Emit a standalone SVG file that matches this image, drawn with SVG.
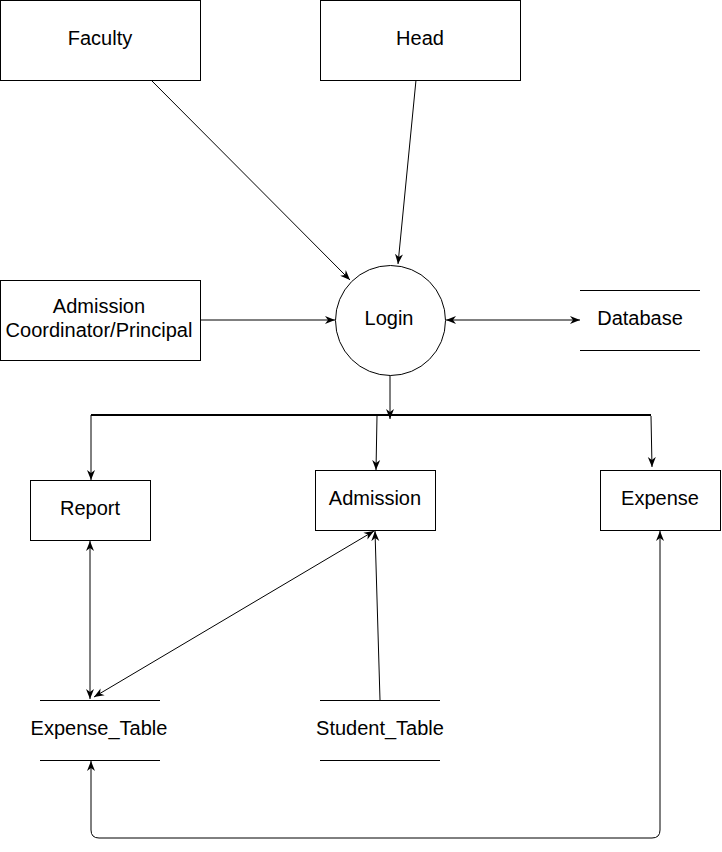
<svg xmlns="http://www.w3.org/2000/svg" width="722" height="852" viewBox="0 0 722 852">
<defs>
<marker id="ah" viewBox="0 0 10 10" refX="10" refY="5" markerWidth="10" markerHeight="10" markerUnits="userSpaceOnUse" orient="auto-start-reverse">
<path d="M0,1 L10,5 L0,9 L3,5 Z" fill="#000"/>
</marker>
</defs>
<style>
.box{fill:#fff;stroke:#000;stroke-width:1}
.ln{fill:none;stroke:#000;stroke-width:1}
.t{font-family:"Liberation Sans",Arial,sans-serif;font-size:20px;fill:#000;text-anchor:middle}
</style>
<rect width="722" height="852" fill="#fff"/>
<g id="connectors">
<line class="ln" x1="151" y1="80" x2="350" y2="280" marker-end="url(#ah)"/>
<line class="ln" x1="416" y1="80" x2="398" y2="264" marker-end="url(#ah)"/>
<line class="ln" x1="200" y1="320" x2="335" y2="320" marker-end="url(#ah)"/>
<line class="ln" x1="446" y1="320" x2="580" y2="320" marker-start="url(#ah)" marker-end="url(#ah)"/>
<line class="ln" x1="390" y1="375" x2="390" y2="419" marker-end="url(#ah)"/>
<line x1="91" y1="415" x2="651" y2="415" stroke="#000" stroke-width="2"/>
<line class="ln" x1="91" y1="415" x2="91" y2="480" marker-end="url(#ah)"/>
<line class="ln" x1="377" y1="416" x2="376" y2="470" marker-end="url(#ah)"/>
<line class="ln" x1="651" y1="416" x2="652" y2="467" marker-end="url(#ah)"/>
<line class="ln" x1="90" y1="541" x2="90" y2="699" marker-start="url(#ah)" marker-end="url(#ah)"/>
<line class="ln" x1="374" y1="531" x2="94" y2="697" marker-start="url(#ah)" marker-end="url(#ah)"/>
<line class="ln" x1="380" y1="700" x2="375" y2="531" marker-end="url(#ah)"/>
<path class="ln" d="M660,531 L660,830 Q660,838 652,838 L99,838 Q91,838 91,830 L91,761" marker-start="url(#ah)" marker-end="url(#ah)"/>
</g>
<g id="faculty"><rect class="box" x="0.5" y="0.5" width="200" height="80"/><text class="t" x="100" y="45">Faculty</text></g>
<g id="head"><rect class="box" x="320.5" y="0.5" width="200" height="80"/><text class="t" x="420" y="45">Head</text></g>
<g id="admission-coordinator"><rect class="box" x="0.5" y="280.5" width="200" height="80"/><text class="t" x="99" y="313">Admission</text><text class="t" x="99" y="337">Coordinator/Principal</text></g>
<g id="login"><circle class="box" cx="390.5" cy="320.5" r="55"/><text class="t" x="389" y="325">Login</text></g>
<g id="database"><line class="ln" x1="580" y1="290.5" x2="700" y2="290.5"/><line class="ln" x1="580" y1="350.5" x2="700" y2="350.5"/><text class="t" x="640" y="325">Database</text></g>
<g id="report"><rect class="box" x="30.5" y="480.5" width="120" height="60"/><text class="t" x="90" y="515">Report</text></g>
<g id="admission"><rect class="box" x="315.5" y="470.5" width="120" height="60"/><text class="t" x="375" y="505">Admission</text></g>
<g id="expense"><rect class="box" x="600.5" y="470.5" width="120" height="60"/><text class="t" x="660" y="505">Expense</text></g>
<g id="expense-table"><line class="ln" x1="40" y1="700.5" x2="160" y2="700.5"/><line class="ln" x1="40" y1="760.5" x2="160" y2="760.5"/><text class="t" x="99" y="735">Expense_Table</text></g>
<g id="student-table"><line class="ln" x1="320" y1="700.5" x2="440" y2="700.5"/><line class="ln" x1="320" y1="760.5" x2="440" y2="760.5"/><text class="t" x="380" y="735">Student_Table</text></g>
</svg>
